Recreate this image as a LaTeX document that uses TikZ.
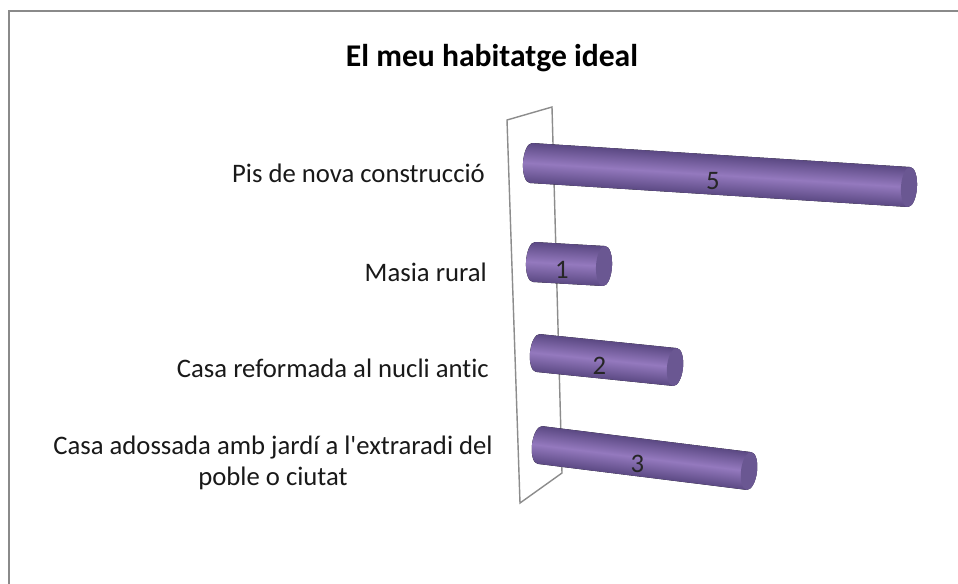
\documentclass[tikz,border=0pt]{standalone}
\usepackage{fontspec}
\setmainfont{Carlito}[Ligatures={TeX,CommonOff}]
\usepackage{xcolor}
\usepackage{tikz}
\usetikzlibrary{calc}
\usetikzlibrary{positioning}

\definecolor{barmid}{HTML}{9479BE}
\definecolor{bardark}{HTML}{5B4983}
\definecolor{barcap}{HTML}{6A5792}
\definecolor{framegray}{HTML}{8A8A8A}
\definecolor{wallgray}{HTML}{8C8C8C}

% one cylinder: name, left x, left y, right x, right y, half height, value
\newcommand{\cylbar}[7]{%
	\pgfmathsetmacro\cylang{-atan2(#5-#3,#4-#2)}
	\pgfmathsetmacro\cyllen{veclen(#4-#2,#5-#3)}
	\begin{scope}[transform canvas={shift={(#2,#3)},rotate=\cylang}]
		\fill[top color=bardark,bottom color=bardark,middle color=barmid] (0,-#6) -- (\cyllen,-#6) arc[start angle=90,end angle=-90,x radius=0.16cm,y radius=#6*0.02cm] -- (0,#6) arc[start angle=270,end angle=90,x radius=0.16cm,y radius=#6*0.02cm] -- cycle;
		\fill[barcap] (\cyllen,0) ellipse[x radius=0.16cm,y radius=#6*0.02cm];
	\end{scope}
	\node[val] (#1) at ($(#2,#3)!0.5!(#4,#5)+(-7,6)$) {#7};
}

\begin{document}
\begin{tikzpicture}[x=0.02cm,y=-0.02cm,
	val/.style={font=\fontsize{15.2}{18}\selectfont,text=black!85},
	cat/.style={font=\fontsize{15.2}{18}\selectfont,text=black!90,anchor=east}]
	\useasboundingbox (0,0) rectangle (958,583);
	\fill[white] (0,0) rectangle (958,583);
	\draw[framegray,line width=1.1pt] (9,590) -- (9,11) -- (965,11);
	\node (title) at (492,58) {\bfseries\fontsize{18}{21}\selectfont El meu habitatge ideal};
	% wall behind the bars
	\draw[wallgray,line width=0.8pt] (507,120) -- (552,107) -- (562,473) -- (520,503) -- cycle;
	% bars
	\cylbar{v5}{531}{163}{909}{187}{20}{5}
	\cylbar{v1}{534}{262}{604}{266}{20}{1}
	\cylbar{v2}{538}{353}{675}{367}{19}{2}
	\cylbar{v3}{540}{445}{749}{471}{19}{3}
	% categories
	\node[cat] (pis) at (491,173) {Pis de nova construcció};
	\node[cat] (masia) at (493,272) {Masia rural};
	\node[cat] (reform) at (495,368) {Casa reformada al nucli antic};
	\node[cat,anchor=center,align=center] (adossada) at (273,463) {Casa adossada amb jardí a l\textquotesingle extraradi del\\poble o ciutat};
\end{tikzpicture}
\end{document}
